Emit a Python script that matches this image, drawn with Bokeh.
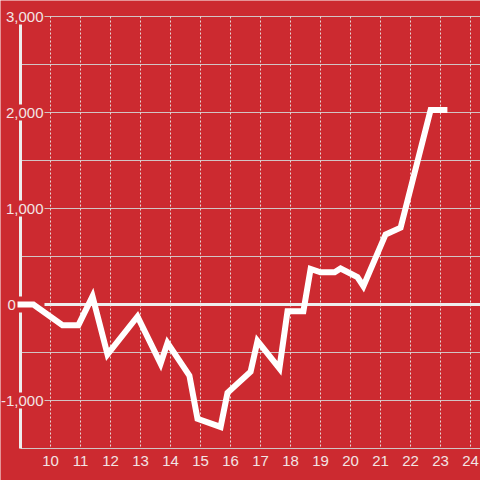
from bokeh.plotting import figure
from bokeh.models import Range1d
from bokeh.core.properties import value
from bokeh.embed import file_html
from bokeh.resources import INLINE

# ---- data ----
hours = [8.9, 9.43, 10.4, 10.93, 11.4, 11.9, 12.9, 13.67, 13.9, 14.63, 14.9,
         15.67, 15.9, 16.67, 16.9, 17.63, 17.9, 18.43, 18.67, 19.0, 19.47,
         19.67, 20.23, 20.43, 21.17, 21.67, 22.67, 23.23]
values = [0, 0, -215, -215, 85, -520, -125, -615, -400, -740, -1190,
          -1275, -920, -700, -380, -665, -70, -70, 370, 335, 335,
          375, 285, 190, 730, 800, 2025, 2025]
x_ticks = list(range(10, 25))
x_tick_labels = [str(v) for v in x_ticks]
y_ticks = [-1000, 0, 1000, 2000, 3000]
y_tick_labels = ["-1,000", "0", "1,000", "2,000", "3,000"]

# ---- styling / geometry ----
BG = "#CC2A30"
TXT = "#F2E4E4"
FONT = value("Liberation Sans")
W = H = 480
S = W / 480.0
X_AXIS = 9.0          # x value where the left axis sits
Y_BOTTOM = -1500      # y value of the bottom line
Y_TOP = 3000
x0, x1 = X_AXIS - 20 / 30.0, X_AXIS + 460 / 30.0
y1 = Y_TOP + 16 / 96.0 * 1000
y0 = y1 - 480 / 96.0 * 1000

p = figure(width=W, height=H, output_backend="svg", toolbar_location=None,
           x_range=Range1d(x0, x1), y_range=Range1d(y0, y1),
           x_axis_location=None, y_axis_location=None, min_border=0,
           background_fill_color=BG, border_fill_color=BG)
p.outline_line_color = None
p.xgrid.visible = False
p.ygrid.visible = False

# horizontal grid lines every 500
grid_y = [v for v in range(Y_BOTTOM, Y_TOP + 1, 500) if v != 0]
p.segment(x0=[X_AXIS] * len(grid_y), y0=grid_y, x1=[x1 + 1] * len(grid_y), y1=grid_y,
          line_color="#D2C4C4", line_width=1.2 * S)

# vertical dotted grid lines
p.segment(x0=x_ticks, y0=[Y_TOP] * len(x_ticks), x1=x_ticks, y1=[Y_BOTTOM + 15] * len(x_ticks),
          line_color="#E6D6D6", line_width=1 * S, line_dash="2 2")

# zero line
p.segment(x0=[X_AXIS], y0=[0], x1=[x1 + 1], y1=[0], line_color="#EEEEEE", line_width=3 * S)

# left axis line
p.segment(x0=[X_AXIS], y0=[Y_TOP], x1=[X_AXIS], y1=[Y_BOTTOM], line_color="#EEEEEE",
          line_width=3 * S)

# label boxes covering axis / grid
half = 8 / 96.0 * 1000
p.quad(left=[X_AXIS - 17 / 30.0] * len(y_ticks), right=[X_AXIS + 24 / 30.0] * len(y_ticks),
       bottom=[t - half for t in y_ticks], top=[t + half for t in y_ticks],
       fill_color=BG, line_color=None)

# y tick labels
nz = [(t, l) for t, l in zip(y_ticks, y_tick_labels) if t != 0]
z = [(t, l) for t, l in zip(y_ticks, y_tick_labels) if t == 0]
p.text(x=[X_AXIS + 23 / 30.0] * len(nz), y=[t for t, _ in nz], text=[l for _, l in nz],
       text_align="right", text_baseline="middle", text_color=TXT,
       text_font=FONT, text_font_size=f"{15 * S:.1f}px")
p.text(x=[X_AXIS - 13 / 30.0] * len(z), y=[t for t, _ in z], text=[l for _, l in z],
       text_align="left", text_baseline="middle", text_color=TXT,
       text_font=FONT, text_font_size=f"{15 * S:.1f}px")

# x tick labels
x_lab_y = Y_BOTTOM - 12.5 / 96.0 * 1000
p.text(x=x_ticks, y=[x_lab_y] * len(x_ticks), text=x_tick_labels,
       text_align="center", text_baseline="middle", text_color=TXT,
       text_font=FONT, text_font_size=f"{15 * S:.1f}px")

# data line
p.line(hours, values, line_color="#FFFFFF", line_width=6 * S, line_join="miter",
       line_cap="butt")

open("out.html", "w").write(file_html(p, INLINE))
